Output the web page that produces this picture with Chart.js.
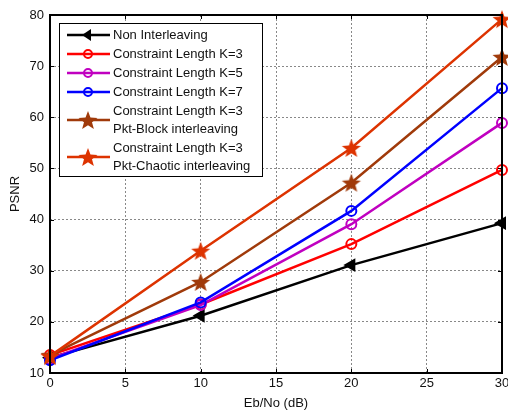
<!DOCTYPE html>
<html>
<head>
<meta charset="utf-8">
<script src="https://cdn.jsdelivr.net/npm/chart.js@4.4.0/dist/chart.umd.min.js"></script>
<style>
  html, body { margin: 0; padding: 0; background: #fff; }
  #wrap { width: 508px; height: 411px; }
</style>
</head>
<body>
<div id="wrap"><canvas id="c1" width="508" height="411"></canvas></div>
<script>
// data
var ebno = [0, 10, 20, 30];
var nonInter = [13.0, 21.2, 31.1, 39.3];
var k3 = [13.5, 23.4, 35.2, 49.7];
var k5 = [12.8, 23.3, 39.1, 58.9];
var k7 = [12.5, 23.8, 41.7, 65.7];
var k3Block = [13.5, 27.8, 47.2, 71.8];
var k3Chaotic = [13.3, 33.9, 54.0, 79.2];
var yTicks = [10, 20, 30, 40, 50, 60, 70, 80];
var xTicks = [0, 5, 10, 15, 20, 25, 30];

var seriesNames = ['Non Interleaving', 'Constraint Length K=3', 'Constraint Length K=5',
  'Constraint Length K=7', 'Constraint Length K=3\nPkt-Block interleaving',
  'Constraint Length K=3\nPkt-Chaotic interleaving'];

// filled pentagram marker
function starImg(color, r) {
  var c = document.createElement('canvas');
  var s = Math.ceil(r * 2 + 2);
  c.width = s; c.height = s;
  var g = c.getContext('2d');
  g.beginPath();
  for (var i = 0; i < 10; i++) {
    var rad = (i % 2 === 0) ? r : r * 0.42;
    var a = -Math.PI / 2 + i * Math.PI / 5;
    var px = s / 2 + rad * Math.cos(a), py = s / 2 + 1 + rad * Math.sin(a);
    if (i === 0) g.moveTo(px, py); else g.lineTo(px, py);
  }
  g.closePath();
  g.fillStyle = color;
  g.fill();
  return c;
}
var brown = '#a03a0a';
var orange = '#dd3300';
var starBrown = starImg(brown, 10);
var starOrange = starImg(orange, 10);

function pts(arr) {
  return arr.map(function (v, i) { return {x: ebno[i], y: v}; });
}

var datasets = [
  {data: pts(nonInter), borderColor: '#000', pointStyle: 'triangle', rotation: 270, pointRadius: 6,
    pointBackgroundColor: '#000', pointBorderColor: '#000'},
  {data: pts(k3), borderColor: '#ff0000', pointStyle: 'circle', pointRadius: 5,
    pointBackgroundColor: 'rgba(0,0,0,0)', pointBorderColor: '#ff0000'},
  {data: pts(k5), borderColor: '#c000c0', pointStyle: 'circle', pointRadius: 5,
    pointBackgroundColor: 'rgba(0,0,0,0)', pointBorderColor: '#c000c0'},
  {data: pts(k7), borderColor: '#0000ff', pointStyle: 'circle', pointRadius: 5,
    pointBackgroundColor: 'rgba(0,0,0,0)', pointBorderColor: '#0000ff'},
  {data: pts(k3Block), borderColor: brown, pointStyle: starBrown, pointRadius: 10},
  {data: pts(k3Chaotic), borderColor: orange, pointStyle: starOrange, pointRadius: 10}
];
datasets.forEach(function (d, i) {
  d.label = seriesNames[i];
  d.borderWidth = 2.5;
  d.pointBorderWidth = 2;
  d.tension = 0;
  d.fill = false;
  d.clip = false;
});
datasets.reverse(); // first series ends up on top

var fam = '"Liberation Sans", Arial, sans-serif';

// axes box, inward ticks and the legend
var boxPlugin = {
  id: 'box',
  afterDraw: function (chart) {
    var ctx = chart.ctx, a = chart.chartArea;
    var xs = chart.scales.x, ys = chart.scales.y;
    ctx.save();
    ctx.strokeStyle = '#000';
    ctx.lineWidth = 1;
    xTicks.forEach(function (t) {
      var px = Math.round(xs.getPixelForValue(t)) + 0.5;
      ctx.beginPath();
      ctx.moveTo(px, a.bottom); ctx.lineTo(px, a.bottom - 4);
      ctx.moveTo(px, a.top); ctx.lineTo(px, a.top + 4);
      ctx.stroke();
    });
    yTicks.forEach(function (t) {
      var py = Math.round(ys.getPixelForValue(t)) + 0.5;
      ctx.beginPath();
      ctx.moveTo(a.left, py); ctx.lineTo(a.left + 4, py);
      ctx.moveTo(a.right, py); ctx.lineTo(a.right - 4, py);
      ctx.stroke();
    });
    ctx.lineWidth = 2;
    ctx.strokeRect(a.left, a.top, a.right - a.left, a.bottom - a.top);

    // legend
    var lx = 59, ly = 23, lw = 203, lh = 153;
    ctx.fillStyle = '#fff';
    ctx.fillRect(lx, ly, lw, lh);
    ctx.lineWidth = 1;
    ctx.strokeStyle = '#000';
    ctx.strokeRect(lx + 0.5, ly + 0.5, lw, lh);
    var rows = [35, 54, 73, 92, 120, 157];
    ctx.font = '13px ' + fam;
    ctx.textBaseline = 'middle';
    for (var i = 0; i < 6; i++) {
      var ds = chart.data.datasets[5 - i];
      var y = rows[i];
      ctx.strokeStyle = ds.borderColor;
      ctx.lineWidth = 2.5;
      ctx.beginPath();
      ctx.moveTo(67, y); ctx.lineTo(110, y);
      ctx.stroke();
      var mx = 88;
      if (i === 0) {
        ctx.fillStyle = '#000';
        ctx.beginPath();
        ctx.moveTo(mx - 6, y); ctx.lineTo(mx + 3, y - 6); ctx.lineTo(mx + 3, y + 6);
        ctx.closePath(); ctx.fill();
      } else if (i < 4) {
        ctx.lineWidth = 2;
        ctx.beginPath();
        ctx.arc(mx, y, 4, 0, Math.PI * 2);
        ctx.stroke();
      } else {
        var img = ds.pointStyle;
        ctx.drawImage(img, mx - img.width / 2, y - img.height / 2);
      }
      ctx.fillStyle = '#111';
      var lines = ds.label.split('\n');
      if (lines.length === 1) {
        ctx.fillText(lines[0], 113, y);
      } else {
        ctx.fillText(lines[0], 113, y - 9);
        ctx.fillText(lines[1], 113, y + 9);
      }
    }
    ctx.restore();
  }
};

var ctx = document.getElementById('c1');
var config = {
  type: 'line',
  data: {datasets: datasets},
  plugins: [boxPlugin],
  options: {
    responsive: false,
    animation: false,
    layout: {autoPadding: false, padding: {top: 15, right: 6, left: 0, bottom: 0}},
    plugins: {
      legend: {display: false},
      tooltip: {enabled: false}
    },
    scales: {
      x: {
        type: 'linear',
        min: 0, max: 30,
        afterBuildTicks: function (s) { s.ticks = xTicks.map(function (v) { return {value: v}; }); },
        afterFit: function (s) { s.height = 38; s.paddingLeft = 0; s.paddingRight = 0; },
        ticks: {color: '#111', padding: 3, font: {size: 13, family: fam}},
        grid: {color: '#888', lineWidth: 1, drawTicks: false},
        border: {display: false, dash: [2, 2]},
        title: {display: true, text: 'Eb/No (dB)', color: '#111', padding: {top: 0, bottom: 0},
          font: {size: 13, family: fam}}
      },
      y: {
        type: 'linear',
        min: 10, max: 80,
        afterBuildTicks: function (s) { s.ticks = yTicks.map(function (v) { return {value: v}; }); },
        afterFit: function (s) { s.width = 50; s.paddingTop = 0; s.paddingBottom = 0; },
        ticks: {color: '#111', padding: 6, font: {size: 13, family: fam}},
        grid: {color: '#888', lineWidth: 1, drawTicks: false},
        border: {display: false, dash: [2, 2]},
        title: {display: true, text: 'PSNR', color: '#111', padding: {top: 8, bottom: 0},
          font: {size: 13, family: fam}}
      }
    }
  }
};

var chart = new Chart(ctx, config);
</script>
</body>
</html>
